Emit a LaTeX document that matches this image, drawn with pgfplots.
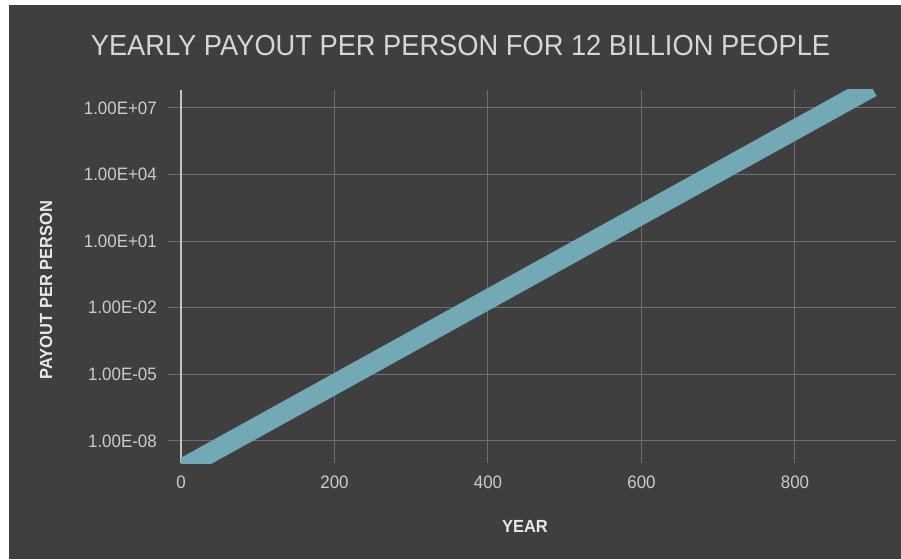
\documentclass[border=0pt]{standalone}
\usepackage{fontspec}
\setmainfont{Liberation Sans}[FakeStretch=0.94]
\usepackage{pgfplots}
\pgfplotsset{compat=1.18}
\definecolor{bgc}{HTML}{3F3F3F}
\definecolor{gridc}{HTML}{6F6F6F}
\definecolor{axisc}{HTML}{C4C4C4}
\definecolor{bandc}{HTML}{73A9B5}
\definecolor{titlec}{HTML}{D6D6D6}
\definecolor{tickc}{HTML}{CBCBCB}
\definecolor{labc}{HTML}{E8E8E8}
\begin{document}
\begin{tikzpicture}[x=1pt,y=1pt]
\fill[white] (0,0) rectangle (901,559);
\fill[bgc] (9,0) rectangle (901,554);
\begin{axis}[
  at={(181pt,96pt)}, anchor=south west,
  scale only axis, width=702pt, height=373pt,
  xmin=0, xmax=914.7,
  ymode=log, ymin=1.02e-9, ymax=6.47e7,
  axis line style={draw=none},
  grid=major,
  grid style={draw=gridc, line width=1pt},
  xtick={200,400,600,800},
  extra x ticks={0},
  extra x tick labels={0},
  extra x tick style={grid style={draw=axisc, line width=1.3pt}},
  ytick={1e-8,1e-5,1e-2,1e1,1e4,1e7},
  yticklabels={1.00E-08,1.00E-05,1.00E-02,1.00E+01,1.00E+04,1.00E+07},
  minor tick num=0,
  tick align=outside,
  major tick length=13pt,
  ytick style={draw=gridc, line width=1pt},
  xtick style={draw=none},
  /pgf/number format/assume math mode=true,
  yticklabel style={font=\fontsize{18}{20}\selectfont, text=tickc, inner sep=0pt, xshift=-11pt},
  xticklabel style={font=\fontsize{18}{20}\selectfont, text=tickc, inner sep=0pt, yshift=0pt},
]
\addplot[bandc, line width=20pt, line cap=butt, line join=round] coordinates {
  (0,5.37e-10) (100,4.39e-8) (200,3.58e-6) (300,2.92e-4) (400,2.39e-2)
  (500,1.95) (600,159) (700,1.30e4) (800,1.06e6) (900,8.67e7)
};
\end{axis}
\node[text=titlec, font=\fontsize{29}{33}\selectfont, anchor=center] at (460.5,513) {YEARLY PAYOUT PER PERSON FOR 12 BILLION PEOPLE};
\node[text=labc, font=\fontsize{17.5}{20}\selectfont\bfseries, anchor=center] at (525,33) {YEAR};
\node[text=labc, font=\fontsize{17.5}{20}\selectfont\bfseries, anchor=center, rotate=90] at (46,269) {PAYOUT PER PERSON};
\end{tikzpicture}
\end{document}
